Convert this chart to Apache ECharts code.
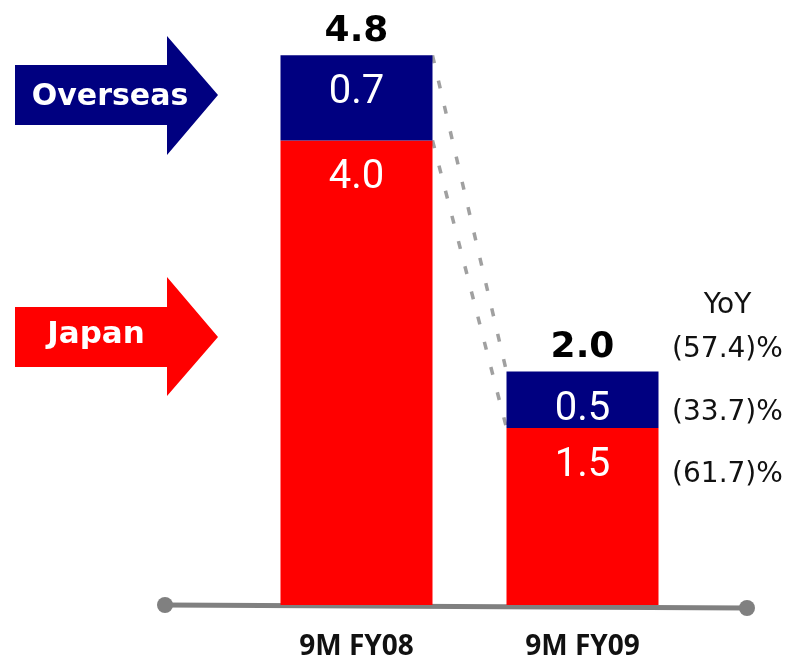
<!DOCTYPE html>
<html>
<head>
    <meta charset="utf-8">
    <title></title>
    <script src="https://cdn.jsdelivr.net/npm/echarts@6.0.0/dist/echarts.min.js"></script>
</head>
<body style="margin:0;background:#fff;">
    <div id="main" style="width: 790px;height:662px;"></div>
    <script type="text/javascript">
var categories = ['9M FY08', '9M FY09']
var japanData = [4.04, 1.54]
var overseasData = [0.74, 0.49]
var yoyLabels = ['YoY', '(57.4)%', '(33.7)%', '(61.7)%']

var totals = []
for (var i = 0; i < categories.length; i++) {
  totals.push(+(japanData[i] + overseasData[i]).toFixed(2))
}

var barW = 152
var myChart = echarts.init(document.getElementById('main'))

var valueLabel = {
  show: true,
  position: 'insideTop',
  distance: 18,
  color: '#fff',
  fontFamily: 'Roboto',
  fontSize: 40,
  formatter: function (p) { return p.value.toFixed(1) }
}

option = {
  backgroundColor: '#fff',
  animation: false,
  grid: { left: 243.5, right: 94.5, top: 30, bottom: 57 },
  xAxis: {
    type: 'category',
    data: categories,
    axisLine: { show: false },
    axisTick: { show: false },
    axisLabel: {
      margin: 28,
      color: '#111',
      fontFamily: 'Open Sans',
      fontWeight: 'bold',
      fontSize: 28
    }
  },
  yAxis: {
    type: 'value',
    min: 0,
    max: 5,
    show: false
  },
  series: [{
    name: 'Japan',
    type: 'bar',
    stack: 'sales',
    barWidth: barW,
    itemStyle: { color: '#ff0000' },
    label: valueLabel,
    data: japanData
  }, {
    name: 'Overseas',
    type: 'bar',
    stack: 'sales',
    barWidth: barW,
    itemStyle: { color: '#000080' },
    label: valueLabel,
    data: overseasData
  }, {
    name: 'Total',
    type: 'bar',
    barWidth: barW,
    barGap: '-100%',
    z: 0,
    itemStyle: { color: 'rgba(0,0,0,0)' },
    label: {
      show: true,
      position: 'top',
      distance: 6,
      color: '#000',
      fontFamily: 'DejaVu Sans',
      fontWeight: 'bold',
      fontSize: 36,
      formatter: function (p) { return p.value.toFixed(1) }
    },
    data: totals
  }]
}
myChart.setOption(option)

// 連結線・YoY・矢印
var topA = myChart.convertToPixel({ seriesIndex: 0 }, [0, totals[0]])
var midA = myChart.convertToPixel({ seriesIndex: 0 }, [0, japanData[0]])
var topB = myChart.convertToPixel({ seriesIndex: 0 }, [1, totals[1]])
var midB = myChart.convertToPixel({ seriesIndex: 0 }, [1, japanData[1]])
var base = myChart.convertToPixel({ seriesIndex: 0 }, [0, 0])

var dash = { stroke: '#a0a0a0', lineWidth: 3.5, lineDash: [8, 18] }
var yoyX = topB[0] + barW / 2 + 69
var g = [
  { type: 'line', shape: { x1: topA[0] + barW / 2, y1: topA[1], x2: topB[0] - barW / 2, y2: topB[1] }, style: dash },
  { type: 'line', shape: { x1: midA[0] + barW / 2, y1: midA[1], x2: midB[0] - barW / 2, y2: midB[1] }, style: dash },
  { type: 'line', shape: { x1: 165, y1: base[1], x2: 747, y2: base[1] + 3 }, style: { stroke: '#808080', lineWidth: 5 } },
  { type: 'circle', shape: { cx: 165, cy: base[1], r: 8 }, style: { fill: '#808080' } },
  { type: 'circle', shape: { cx: 747, cy: base[1] + 3, r: 8 }, style: { fill: '#808080' } },
  { type: 'polygon', shape: { points: [[15, 65], [167, 65], [167, 36], [218, 95], [167, 155], [167, 125], [15, 125]] }, style: { fill: '#000080' } },
  { type: 'text', x: 110, y: 97, style: { text: 'Overseas', fill: '#fff', font: 'bold 30px "DejaVu Sans"', align: 'center', verticalAlign: 'middle' } },
  { type: 'polygon', shape: { points: [[15, 307], [167, 307], [167, 277], [218, 337], [167, 396], [167, 367], [15, 367]] }, style: { fill: '#ff0000' } },
  { type: 'text', x: 96, y: 335, style: { text: 'Japan', fill: '#fff', font: 'bold 31px "DejaVu Sans"', align: 'center', verticalAlign: 'middle' } }
]
var yoyY = [topB[1] - 66, topB[1] - 22, topB[1] + 41, midB[1] + 47]
for (var k = 0; k < yoyLabels.length; k++) {
  g.push({ type: 'text', x: yoyX, y: yoyY[k], style: { text: yoyLabels[k], fill: '#111', font: '28px "DejaVu Sans"', align: 'center', verticalAlign: 'middle' } })
}
myChart.setOption({ graphic: g })
    </script>
</body>
</html>
